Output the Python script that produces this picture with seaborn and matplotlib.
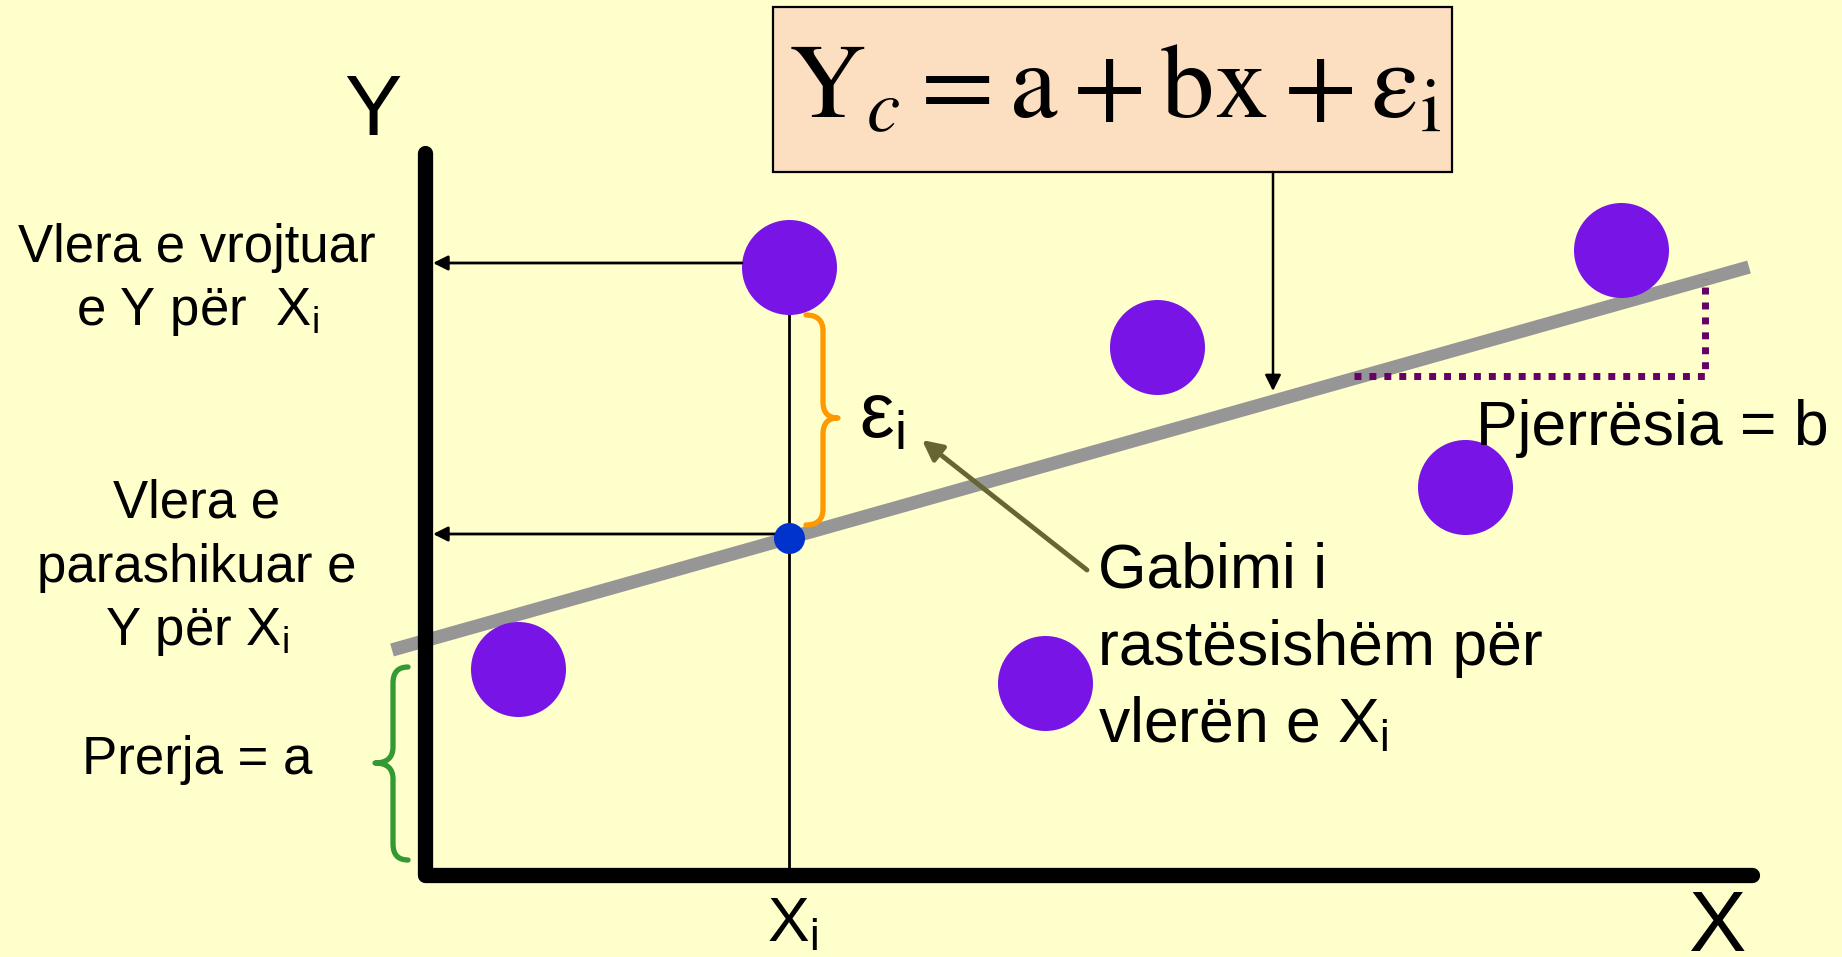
import numpy as np
import matplotlib
matplotlib.use("Agg")
import matplotlib.pyplot as plt
import seaborn as sns
import pandas as pd
from matplotlib.path import Path
from matplotlib.patches import PathPatch, Rectangle

# ---------------- data (diagram units: 1 unit = 100 px) ----------------
obs_x = [0.93, 3.64, 7.32, 11.96, 10.40, 6.20]
obs_y = [2.06, 6.08, 5.28, 6.25, 3.88, 1.92]
xi_value = 3.64
pred_value = 3.37
line_x = [-0.33, 13.24]
line_y = [2.25, 6.08]
slope_x = [9.29, 12.80, 12.80]
slope_y = [4.99, 4.99, 5.96]

left_labels = ["Vlera e vrojtuar", r"e Y për  X$_{\mathrm{i}}$",
               "Vlera e", "parashikuar e", r"Y për X$_{\mathrm{i}}$", "Prerja = a"]
left_label_y = [6.13, 5.50, 3.58, 2.93, 2.30, 1.01]
error_lines = ["Gabimi i", "rastësishëm për", r"vlerën e X$_{\mathrm{i}}$"]
error_line_y = [2.88, 2.10, 1.33]

# ---------------- style ----------------
BG = "#FFFFCC"
sns.set_theme(style="white", rc={"figure.facecolor": BG, "axes.facecolor": BG,
                                 "text.color": "black"})
plt.rcParams["font.family"] = ["Liberation Sans", "DejaVu Sans"]
plt.rcParams["text.color"] = "black"
plt.rcParams["mathtext.fontset"] = "custom"
plt.rcParams["mathtext.rm"] = "Liberation Sans"
plt.rcParams["mathtext.it"] = "Liberation Sans:italic"
plt.rcParams["mathtext.bf"] = "Liberation Sans:bold"

fig = plt.figure(figsize=(18.42, 9.57), dpi=100)
ax = fig.add_axes([0, 0, 1, 1])
ax.set_xlim(-4.25, 14.17)
ax.set_ylim(-0.82, 8.75)
ax.set_axis_off()

# axes (L shape)
ax.plot([0, 0, 13.27], [7.22, 0, 0], color="black", lw=11,
        solid_capstyle="round", solid_joinstyle="round", zorder=4)

# regression line
sns.lineplot(x=line_x, y=line_y, ax=ax, color="#969696", lw=9.6,
             solid_capstyle="butt", zorder=2, legend=False)

# slope dotted
ax.plot(slope_x, slope_y, color="#660066", lw=5, linestyle=(0, (1, 1.15)),
        dash_capstyle="butt", zorder=2)

# vertical line at Xi
ax.plot([xi_value, xi_value], [obs_y[1], 0], color="black", lw=2, zorder=3)

# observed points
df = pd.DataFrame({"x": obs_x, "y": obs_y})
sns.scatterplot(data=df, x="x", y="y", ax=ax, s=4680, color="#7814E6",
                linewidth=0, zorder=3, legend=False)
# predicted point
sns.scatterplot(x=[xi_value], y=[pred_value], ax=ax, s=500, color="#0033CC",
                linewidth=0, zorder=5, legend=False)

# horizontal arrows to Y axis
arrow_kw = dict(arrowstyle="-|>", lw=2, color="black", mutation_scale=22,
                shrinkA=0, shrinkB=0)
ax.annotate("", xy=(0.08, 6.12), xytext=(3.17, 6.12), arrowprops=arrow_kw, zorder=3)
ax.annotate("", xy=(0.08, 3.41), xytext=(xi_value, 3.41), arrowprops=arrow_kw, zorder=3)

# braces
def brace(x0, xm, xt, ytop, ymid, ybot, r, color):
    verts = [(x0, ytop), (xm, ytop), (xm, ytop - r),
             (xm, ymid + r),
             (xm, ymid), (xt, ymid),
             (xm, ymid), (xm, ymid - r),
             (xm, ybot + r),
             (xm, ybot), (x0, ybot)]
    codes = [Path.MOVETO, Path.CURVE3, Path.CURVE3,
             Path.LINETO,
             Path.CURVE3, Path.CURVE3,
             Path.CURVE3, Path.CURVE3,
             Path.LINETO,
             Path.CURVE3, Path.CURVE3]
    ax.add_patch(PathPatch(Path(verts, codes), facecolor="none", edgecolor=color,
                           lw=3.8, capstyle="round", joinstyle="round", zorder=3))

brace(3.81, 3.98, 4.13, 5.60, 4.57, 3.50, 0.16, "#FF9900")
brace(-0.17, -0.32, -0.50, 2.08, 1.12, 0.15, 0.16, "#339933")

# formula box
ax.add_patch(Rectangle((3.48, 7.03), 6.79, 1.65, facecolor="#FCDEC0",
                       edgecolor="black", lw=1.6, zorder=3))
ax.text(6.90, 7.57,
        r"$\mathrm{Y}_{c} = \mathrm{a} + \mathrm{bx} + \mathrm{ε}_{\mathrm{i}}$",
        fontsize=77, ha="center", va="baseline", math_fontfamily="stix",
        color="black", zorder=4)
ax.annotate("", xy=(8.48, 4.84), xytext=(8.48, 7.03),
            arrowprops=dict(arrowstyle="-|>", lw=1.8, color="black",
                            mutation_scale=24, shrinkA=0, shrinkB=0), zorder=3)

# error arrow
ax.annotate("", xy=(4.97, 4.35), xytext=(6.62, 3.05),
            arrowprops=dict(arrowstyle="-|>", lw=3.5, color="#666633",
                            mutation_scale=30, shrinkA=0, shrinkB=0), zorder=3)

# texts
for lab, y in zip(left_labels, left_label_y):
    ax.text(-2.28, y, lab, fontsize=38, ha="center", va="baseline", color="black")
for lab, y in zip(error_lines, error_line_y):
    ax.text(6.73, y, lab, fontsize=45, ha="left", va="baseline", color="black")
ax.text(10.51, 4.30, "Pjerrësia = b", fontsize=45, ha="left", va="baseline", color="black")
ax.text(4.34, 4.37, r"ε$_{\mathrm{i}}$", fontsize=56, ha="left", va="baseline", color="black")
ax.text(-0.52, 7.40, "Y", fontsize=62, ha="center", va="baseline", color="black")
ax.text(12.92, -0.76, "X", fontsize=62, ha="center", va="baseline", color="black")
ax.text(3.42, -0.66, r"X$_{\mathrm{i}}$", fontsize=45, ha="left", va="baseline", color="black")

fig.savefig("out.png", dpi=100, facecolor=BG)
